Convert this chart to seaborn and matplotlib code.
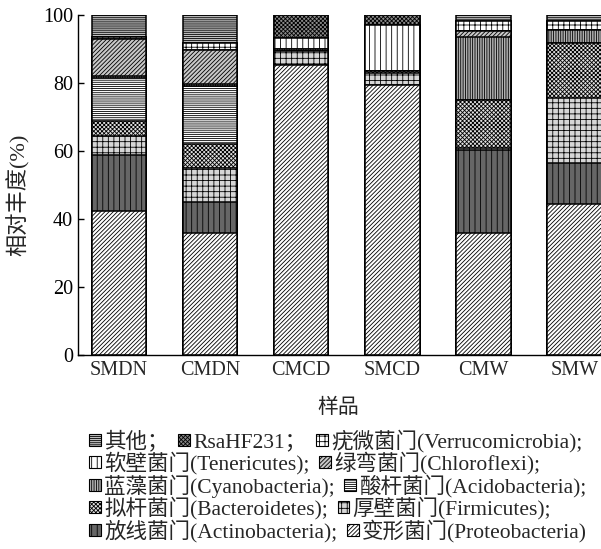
import numpy as np
import pandas as pd
import matplotlib
matplotlib.use('Agg')
import matplotlib.pyplot as plt
import seaborn as sns
from matplotlib.patches import Patch

# sample names on the x axis
samples = ['SMDN', 'CMDN', 'CMCD', 'SMCD', 'CMW', 'SMW']

# relative abundance (%) per phylum (bottom to top of the stack)
proteobacteria = [42.3, 35.9, 85.2, 79.4, 35.9, 44.5]
actinobacteria = [16.4, 9.1, 0.0, 0.0, 24.4, 12.0]
firmicutes = [5.6, 9.9, 4.2, 3.6, 0.5, 19.2]
bacteroidetes = [4.4, 7.3, 0.0, 0.5, 14.2, 16.2]
acidobacteria = [12.7, 16.8, 0.0, 0.0, 0.0, 0.0]
cyanobacteria = [0.7, 0.7, 0.7, 0.0, 18.5, 3.6]
chloroflexi = [10.7, 9.9, 0.0, 0.0, 1.8, 0.0]
tenericutes = [0.0, 0.0, 3.0, 13.7, 0.0, 0.0]
verrucomicrobia = [0.6, 2.1, 0.0, 0.0, 3.0, 2.8]
rsahf231 = [0.0, 0.0, 6.9, 2.8, 0.0, 0.0]
others = [6.6, 8.3, 0.0, 0.0, 1.7, 1.7]

labels = ['变形菌门(Proteobacteria)', '放线菌门(Actinobacteria);', '厚壁菌门(Firmicutes);',
          '拟杆菌门(Bacteroidetes);', '酸杆菌门(Acidobacteria);', '蓝藻菌门(Cyanobacteria);',
          '绿弯菌门(Chloroflexi);', '软壁菌门(Tenericutes);', '疣微菌门(Verrucomicrobia);',
          'RsaHF231；', '其他；']

df = pd.DataFrame({
    'Proteobacteria': proteobacteria, 'Actinobacteria': actinobacteria,
    'Firmicutes': firmicutes, 'Bacteroidetes': bacteroidetes,
    'Acidobacteria': acidobacteria, 'Cyanobacteria': cyanobacteria,
    'Chloroflexi': chloroflexi, 'Tenericutes': tenericutes,
    'Verrucomicrobia': verrucomicrobia, 'RsaHF231': rsahf231, 'Others': others,
}, index=samples)

# fill colour and hatch for every layer (same order as the columns)
faces = ['white', '#666666', '#d6d6d6', '#e0e0e0', 'white', '#b0b0b0',
         '#c8c8c8', 'white', 'white', '#8a8a8a', '#c0c0c0']
hatches = ['////////', '|||', '+++', 'xxxxxxxx', '--------', '|||||||',
           '////////', '|||', '+++', 'xxxxxxxx', '--------']

sns.set_style('ticks')
plt.rcParams['font.family'] = ['Liberation Serif', 'Noto Sans CJK SC', 'DejaVu Sans']
plt.rcParams['hatch.linewidth'] = 0.6
plt.rcParams['axes.unicode_minus'] = False

fig = plt.figure(figsize=(6.01, 5.49), dpi=100)
ax = fig.add_axes([78 / 601, 1 - 355 / 549, 523 / 601, 340 / 549])

# stacked bars: draw cumulative totals from the top layer down
cum = df.cumsum(axis=1)
cols = list(df.columns)
for i in range(len(cols) - 1, -1, -1):
    sns.barplot(x=samples, y=cum[cols[i]].values, order=samples, ax=ax,
                color=faces[i], saturation=1, width=0.6, edgecolor='black',
                linewidth=1.1, hatch=hatches[i])

ax.set_ylim(0, 100)
ax.set_xlim(-0.4486, 5.29)
ax.set_yticks([0, 20, 40, 60, 80, 100])
ax.tick_params(axis='y', direction='in', length=4, width=1, labelsize=14.5, colors='black')
ax.tick_params(axis='x', length=0, labelsize=14.5, pad=4)
for s in ['top', 'right']:
    ax.spines[s].set_visible(False)
for s in ['left', 'bottom']:
    ax.spines[s].set_color('black')
    ax.spines[s].set_linewidth(1)

ax.set_ylabel('相对丰度(%)', fontsize=16)
ax.yaxis.set_label_coords(-0.092, 0.47)
ax.set_xlabel('样品', fontsize=15)
ax.xaxis.set_label_coords(0.497, -0.13)

# legend: five rows with different numbers of entries
rows = [[10, 9, 8], [7, 6], [5, 4], [3, 2], [1, 0]]
row_y = [441, 463.5, 486, 508.5, 531]
for r, yy in zip(rows, row_y):
    handles = [Patch(facecolor=faces[i], edgecolor='black', hatch=hatches[i], linewidth=0.8)
               for i in r]
    leg = fig.legend(handles, [labels[i] for i in r], ncol=len(r), loc='center left',
                     bbox_to_anchor=(89 / 601, 1 - yy / 549), frameon=False,
                     fontsize=15.5, handlelength=0.55, handleheight=0.5,
                     handletextpad=0.15, columnspacing=0.45, borderpad=0, borderaxespad=0)

fig.savefig('out.png', dpi=100)
